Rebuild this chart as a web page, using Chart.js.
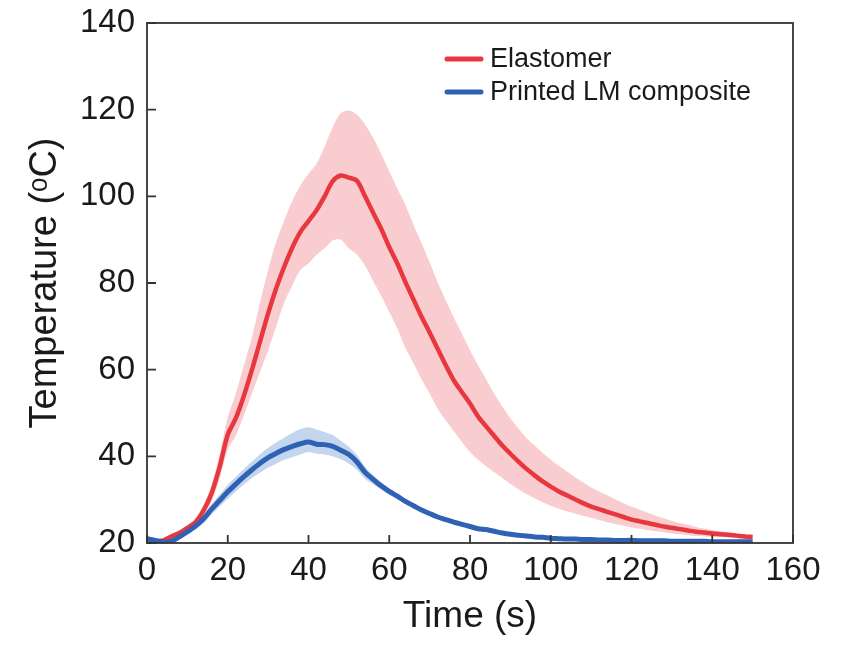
<!DOCTYPE html>
<html>
<head>
<meta charset="utf-8">
<script src="https://cdn.jsdelivr.net/npm/chart.js@4.4.1/dist/chart.umd.min.js"></script>
<style>
  html, body { margin: 0; padding: 0; background: #fff; }
</style>
</head>
<body>
<canvas id="tempChart" width="851" height="649"></canvas>
<script>
// time axis (s), sampled every 2 s
const timeSec = [
  0, 2, 4, 6, 8, 10, 12, 14, 16, 18,
  20, 22, 24, 26, 28, 30, 32, 34, 36, 38,
  40, 42, 44, 46, 48, 50, 52, 54, 56, 58,
  60, 62, 64, 66, 68, 70, 72, 74, 76, 78,
  80, 82, 84, 86, 88, 90, 92, 94, 96, 98,
  100, 102, 104, 106, 108, 110, 112, 114, 116, 118,
  120, 122, 124, 126, 128, 130, 132, 134, 136, 138,
  140, 142, 144, 146, 148, 150
];

// Elastomer: mean temperature and the upper / lower edges of its spread
const elastomerMean = [
  20.6, 20.4, 20.6, 21.5, 22.3, 23.5, 24.8, 27.5, 31.5, 37.6,
  45.0, 48.8, 54.0, 60.0, 66.5, 73.0, 78.8, 83.8, 88.2, 91.8,
  94.3, 96.8, 100.0, 103.5, 104.8, 104.3, 103.6, 100.0, 96.2, 92.5,
  88.3, 84.5, 80.2, 76.2, 72.2, 68.6, 64.8, 61.0, 57.5, 54.8,
  52.2, 49.2, 46.9, 44.7, 42.5, 40.6, 38.8, 37.1, 35.6, 34.2,
  33.0, 31.9, 31.0, 30.1, 29.2, 28.4, 27.8, 27.2, 26.6, 26.0,
  25.4, 25.0, 24.6, 24.2, 23.8, 23.5, 23.2, 22.9, 22.6, 22.4,
  22.2, 22.0, 21.9, 21.7, 21.5, 21.4
];
const elastomerUpper = [
  20.8, 20.7, 20.9, 21.8, 22.7, 24.0, 25.6, 28.8, 33.5, 40.5,
  49.0, 54.5, 61.0, 67.5, 75.5, 83.0, 89.5, 94.5, 99.0, 102.5,
  105.2, 107.5, 111.5, 116.0, 119.2, 119.8, 118.8, 116.6, 113.5, 109.8,
  105.8, 101.8, 98.0, 93.5, 89.2, 84.8, 80.2, 76.0, 72.0, 68.3,
  64.5, 61.0, 57.8, 54.5, 51.5, 48.8, 46.4, 44.2, 42.5, 40.8,
  39.2, 37.8, 36.5, 35.2, 34.0, 32.8, 31.9, 31.0, 30.1, 29.2,
  28.4, 27.7, 27.0, 26.3, 25.7, 25.1, 24.6, 24.2, 23.7, 23.3,
  23.0, 22.7, 22.4, 22.2, 21.9, 21.7
];
const elastomerLower = [
  20.4, 20.2, 20.3, 21.2, 21.9, 23.0, 24.0, 26.2, 29.5, 34.8,
  41.5, 44.8, 49.5, 54.5, 59.5, 64.5, 70.0, 75.5, 79.5, 83.0,
  84.5, 86.5, 88.0, 89.8, 90.0, 88.0, 86.5, 84.0, 80.5, 77.0,
  73.3, 69.5, 65.0, 61.5, 57.8, 54.5, 51.0, 48.3, 45.8, 43.3,
  41.0, 39.2, 37.7, 36.3, 35.0, 33.6, 32.4, 31.3, 30.3, 29.4,
  28.6, 27.9, 27.3, 26.8, 26.3, 25.8, 25.3, 24.8, 24.4, 24.0,
  23.6, 23.3, 23.0, 22.7, 22.5, 22.2, 22.0, 21.8, 21.6, 21.5,
  21.4, 21.3, 21.2, 21.1, 21.1, 21.0
];

// Printed LM composite
const compositeMean = [
  21.0, 20.6, 20.2, 20.4, 21.4, 22.6, 23.9, 25.6, 27.8, 29.8,
  31.8, 33.6, 35.3, 36.9, 38.4, 39.7, 40.7, 41.6, 42.3, 42.9,
  43.3, 42.8, 42.7, 42.3, 41.4, 40.4, 38.7, 36.3, 34.7, 33.2,
  31.9, 30.8, 29.6, 28.6, 27.6, 26.8, 26.0, 25.4, 24.8, 24.3,
  23.8, 23.3, 23.1, 22.7, 22.3, 22.0, 21.8, 21.6, 21.4, 21.3,
  21.1, 21.0, 20.9, 20.9, 20.8, 20.8, 20.7, 20.7, 20.6, 20.6,
  20.6, 20.5, 20.5, 20.5, 20.5, 20.4, 20.4, 20.4, 20.4, 20.4,
  20.3, 20.3, 20.3, 20.3, 20.3, 20.3
];
const compositeUpper = [
  21.3, 20.9, 20.5, 20.7, 21.8, 23.1, 24.6, 26.6, 29.0, 31.2,
  33.4, 35.3, 37.1, 38.8, 40.5, 42.0, 43.2, 44.3, 45.4, 46.3,
  46.7, 46.2, 45.6, 44.9, 43.6, 42.2, 40.3, 37.6, 35.7, 34.0,
  32.5, 31.3, 30.0, 29.0, 27.9, 27.1, 26.3, 25.6, 25.0, 24.5,
  24.0, 23.5, 23.3, 22.9, 22.5, 22.2, 22.0, 21.8, 21.6, 21.5,
  21.3, 21.2, 21.1, 21.1, 21.0, 21.0, 20.9, 20.9, 20.8, 20.8,
  20.8, 20.7, 20.7, 20.7, 20.7, 20.6, 20.6, 20.6, 20.6, 20.6,
  20.5, 20.5, 20.5, 20.5, 20.5, 20.5
];
const compositeLower = [
  20.7, 20.3, 20.0, 20.1, 21.0, 22.1, 23.2, 24.6, 26.6, 28.4,
  30.2, 31.9, 33.5, 35.0, 36.2, 37.4, 38.3, 39.2, 39.8, 40.4,
  41.0, 40.6, 40.4, 40.0, 39.3, 38.3, 36.9, 34.8, 33.5, 32.3,
  31.2, 30.2, 29.1, 28.2, 27.3, 26.5, 25.8, 25.2, 24.6, 24.1,
  23.6, 23.1, 22.9, 22.5, 22.1, 21.8, 21.6, 21.4, 21.2, 21.1,
  20.9, 20.8, 20.7, 20.7, 20.6, 20.6, 20.5, 20.5, 20.4, 20.4,
  20.4, 20.3, 20.3, 20.3, 20.3, 20.2, 20.2, 20.2, 20.2, 20.2,
  20.1, 20.1, 20.1, 20.1, 20.1, 20.1
];

const seriesNames = ["Elastomer", "Printed LM composite"];
const xTicks = [0, 20, 40, 60, 80, 100, 120, 140, 160];
const yTicks = [20, 40, 60, 80, 100, 120, 140];

const RED = "#e8383f";
const BLUE = "#2f61b4";
const RED_BAND = "#f9cdd0";
const BLUE_BAND = "#c3d6ee";
const FONT = "'Liberation Sans', Arial, Helvetica, sans-serif";

function toPoints(values) {
  return timeSec.map(function (t, i) {
    return { x: t, y: values[i] };
  });
}

function bandEdge(values, fillTarget, color, order) {
  return {
    data: toPoints(values),
    borderWidth: 0,
    pointRadius: 0,
    tension: 0.3,
    backgroundColor: color,
    fill: fillTarget,
    order: order,
  };
}

// frame around the plot plus inward tick marks
const frameTicks = {
  id: "frameTicks",
  afterDatasetsDraw(chart) {
    const ctx = chart.ctx;
    const a = chart.chartArea;
    const x = chart.scales.x;
    const y = chart.scales.y;
    ctx.save();
    ctx.strokeStyle = "#333";
    ctx.lineWidth = 1.8;
    ctx.strokeRect(a.left, a.top, a.right - a.left, a.bottom - a.top);
    ctx.beginPath();
    x.ticks.forEach(function (t) {
      const px = x.getPixelForValue(t.value);
      ctx.moveTo(px, a.bottom);
      ctx.lineTo(px, a.bottom - 8);
    });
    y.ticks.forEach(function (t) {
      const py = y.getPixelForValue(t.value);
      ctx.moveTo(a.left, py);
      ctx.lineTo(a.left + 9, py);
    });
    ctx.stroke();
    ctx.restore();
  },
};

// two-row legend in the upper right of the plot
const legendBox = {
  id: "legendBox",
  afterDraw(chart) {
    const ctx = chart.ctx;
    const a = chart.chartArea;
    const x0 = a.left + 298;
    let y0 = a.top + 36;
    ctx.save();
    ctx.font = "27px " + FONT;
    ctx.textBaseline = "middle";
    ctx.fillStyle = "#1a1a1a";
    ctx.lineCap = "round";
    ctx.lineWidth = 5;
    [0, 1].forEach(function (i) {
      const ds = chart.data.datasets[i];
      ctx.strokeStyle = ds.borderColor;
      ctx.beginPath();
      ctx.moveTo(x0 + 2, y0);
      ctx.lineTo(x0 + 36, y0);
      ctx.stroke();
      ctx.fillText(ds.label, x0 + 45, y0 + 1);
      y0 += 33;
    });
    ctx.restore();
  },
};

new Chart(document.getElementById("tempChart"), {
  type: "line",
  data: {
    datasets: [
      { label: seriesNames[0], data: toPoints(elastomerMean), borderColor: RED, borderWidth: 4.5, pointRadius: 0, tension: 0.3, fill: false, order: 1 },
      { label: seriesNames[1], data: toPoints(compositeMean), borderColor: BLUE, borderWidth: 5, pointRadius: 0, tension: 0.3, fill: false, order: 0 },
      bandEdge(elastomerUpper, "+1", RED_BAND, 3),
      bandEdge(elastomerLower, false, RED_BAND, 3),
      bandEdge(compositeUpper, "+1", BLUE_BAND, 2),
      bandEdge(compositeLower, false, BLUE_BAND, 2),
    ],
  },
  options: {
    responsive: false,
    animation: false,
    layout: { padding: { top: 23, right: 58, left: 0, bottom: 0 } },
    plugins: {
      legend: { display: false },
      tooltip: { enabled: false },
    },
    scales: {
      x: {
        type: "linear",
        min: 0,
        max: 160,
        afterFit: function (scale) {
          scale.height = 106;
          scale.paddingLeft = 0;
          scale.paddingRight = 0;
        },
        afterBuildTicks: function (scale) { scale.ticks = xTicks.map(function (v) { return { value: v }; }); },
        grid: { display: false, drawTicks: false },
        border: { display: false },
        ticks: { padding: 8, color: "#1a1a1a", font: { family: FONT, size: 33 } },
        title: { display: true, text: "Time (s)", color: "#1a1a1a", font: { family: FONT, size: 37 }, padding: { top: 0, bottom: 10 } },
      },
      y: {
        min: 20,
        max: 140,
        afterFit: function (scale) {
          scale.width = 147;
          scale.paddingTop = 0;
          scale.paddingBottom = 0;
        },
        afterBuildTicks: function (scale) { scale.ticks = yTicks.map(function (v) { return { value: v }; }); },
        grid: { display: false, drawTicks: false },
        border: { display: false },
        ticks: { padding: 12, color: "#1a1a1a", font: { family: FONT, size: 33 } },
        title: { display: true, text: "Temperature (ᵒC)", color: "#1a1a1a", font: { family: FONT, size: 38 }, padding: { top: 23, bottom: 0 } },
      },
    },
  },
  plugins: [frameTicks, legendBox],
});
</script>
</body>
</html>
